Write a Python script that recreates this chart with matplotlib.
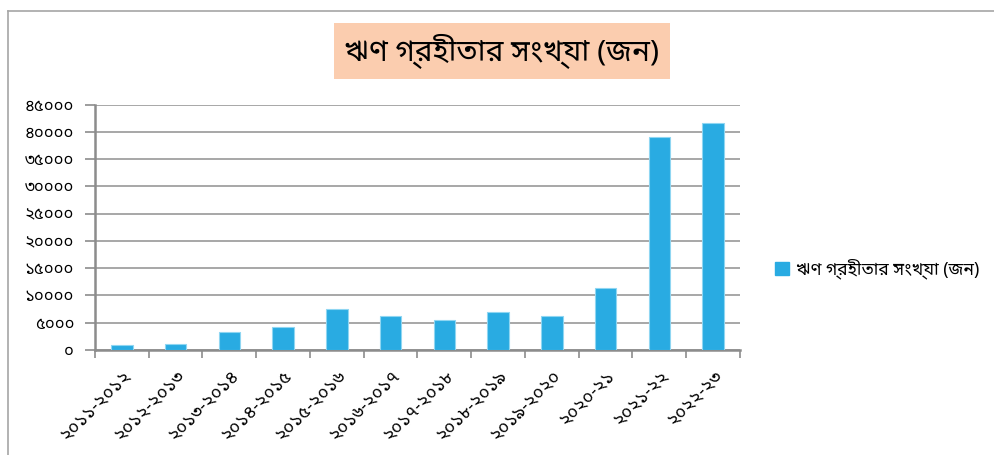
import matplotlib
matplotlib.use("Agg")
import matplotlib.pyplot as plt
from matplotlib import font_manager
from matplotlib.patches import Rectangle
from matplotlib.lines import Line2D

# ---- data ----
categories = ["২০১১-২০১২", "২০১২-২০১৩", "২০১৩-২০১৪", "২০১৪-২০১৫", "২০১৫-২০১৬",
              "২০১৬-২০১৭", "২০১৭-২০১৮", "২০১৮-২০১৯", "২০১৯-২০২০", "২০২০-২১",
              "২০২১-২২", "২০২২-২৩"]
borrowers = [850, 1150, 3250, 4150, 7600, 6150, 5550, 6950, 6150, 11350, 39150, 41600]
y_ticks = [0, 5000, 10000, 15000, 20000, 25000, 30000, 35000, 40000, 45000]
y_tick_labels = ["০", "৫০০০", "১০০০০", "১৫০০০", "২০০০০", "২৫০০০", "৩০০০০",
                 "৩৫০০০", "৪০০০০", "৪৫০০০"]
title = "ঋণ গ্রহীতার সংখ্যা (জন)"
series_name = "ঋণ গ্রহীতার সংখ্যা (জন)"

# ---- find a font with Bengali glyphs ----
def find_bengali_fonts():
    found = []
    try:
        from fontTools.ttLib import TTFont
    except Exception:
        return found
    seen = set()
    for fe in font_manager.fontManager.ttflist:
        if fe.name in seen:
            continue
        try:
            kw = {}
            if fe.fname.lower().endswith((".ttc", ".otc")):
                kw["fontNumber"] = 0
            f = TTFont(fe.fname, lazy=True, **kw)
            cmap = f.getBestCmap()
            if cmap and 0x098B in cmap and 0x09A3 in cmap and 0x09E8 in cmap:
                found.append(fe.name)
                seen.add(fe.name)
        except Exception:
            continue
    return found

beng = find_bengali_fonts()
pref = ["Noto Sans Bengali", "Noto Sans Bengali UI", "Lohit Bengali", "Mukti", "FreeSans", "FreeSerif"]
beng_sorted = [p for p in pref if p in beng] + [b for b in beng if b not in pref]
families = beng_sorted[:1] + ["DejaVu Sans"]
plt.rcParams["font.family"] = families

W, H = 995, 455
fig = plt.figure(figsize=(W / 100, H / 100), dpi=100)

# outer chart border (top and left)
fig.add_artist(Line2D([8 / W, 8 / W], [0, 1 - 11 / H], transform=fig.transFigure,
                      color="#a6a6a6", lw=1.2))
fig.add_artist(Line2D([8 / W, 1], [1 - 11 / H, 1 - 11 / H], transform=fig.transFigure,
                      color="#a6a6a6", lw=1.2))

left, right = 95 / W, 740 / W
bottom, top = 1 - 350 / H, 1 - 104.7 / H
ax = fig.add_axes([left, bottom, right - left, top - bottom])

x = list(range(len(categories)))
bars = ax.bar(x, borrowers, width=0.4, color="#29abe2", edgecolor="#8fd6f2",
              linewidth=0.8, zorder=3, label=series_name)

ax.set_xlim(-0.5, len(categories) - 0.5)
ax.set_ylim(0, 45000)
ax.set_yticks(y_ticks)
ax.set_yticklabels(y_tick_labels, fontsize=12)
ax.yaxis.grid(True, color="#a0a0a0", lw=1.3, zorder=0)
ax.set_axisbelow(True)

ax.set_xticks(x)
ax.set_xticklabels(categories, rotation=45, ha="right", va="top",
                   rotation_mode="anchor", fontsize=13)
ax.tick_params(axis="x", length=0, pad=12)
ax.set_xticks([i - 0.5 for i in range(len(categories) + 1)], minor=True)
ax.tick_params(axis="x", which="minor", length=6, color="#8c8c8c", width=1.2)
ax.tick_params(axis="y", length=7, color="#8c8c8c", width=1.2, pad=8)

for s in ["top", "right"]:
    ax.spines[s].set_visible(False)
for s in ["left", "bottom"]:
    ax.spines[s].set_color("#8c8c8c")
    ax.spines[s].set_linewidth(1.8)

# title box
fig.text(502 / W, 1 - 51 / H, title, ha="center", va="center", fontsize=21.5,
         bbox=dict(boxstyle="square,pad=0.35", facecolor="#fbcdaf", edgecolor="none"))

# legend
fig.legend(handles=[Rectangle((0, 0), 1, 1, color="#29abe2")], labels=[series_name],
           loc="center left", bbox_to_anchor=(768 / W, 1 - 269 / H), frameon=False,
           fontsize=12.5, handlelength=0.8, handleheight=0.8, handletextpad=0.4,
           borderpad=0.2, borderaxespad=0.2)

fig.savefig("out.png", dpi=100, facecolor="white")
